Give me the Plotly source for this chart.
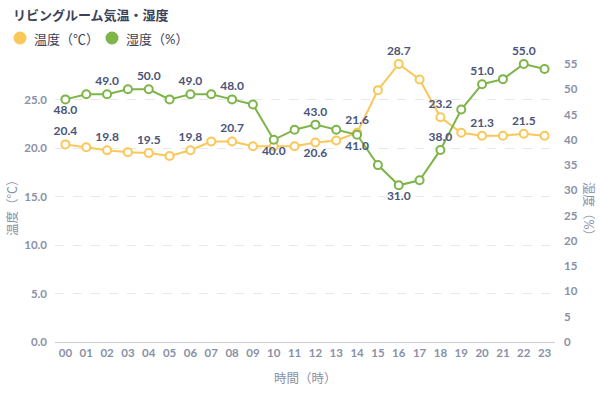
import plotly.graph_objects as go

hours = [f"{h:02d}" for h in range(24)]
temperature = [20.4, 20.1, 19.8, 19.6, 19.5, 19.2, 19.8, 20.7, 20.7, 20.2, 20.2, 20.2,
               20.6, 20.8, 21.6, 26.0, 28.7, 27.1, 23.2, 21.6, 21.3, 21.3, 21.5, 21.3]
humidity = [48.0, 49.0, 49.0, 50.0, 50.0, 48.0, 49.0, 49.0, 48.0, 47.0, 40.0, 42.0,
            43.0, 42.0, 41.0, 35.0, 31.0, 32.0, 38.0, 46.0, 51.0, 52.0, 55.0, 54.0]
temp_ticks = [0, 5, 10, 15, 20, 25]
hum_ticks = [0, 5, 10, 15, 20, 25, 30, 35, 40, 45, 50, 55]

title_text = "リビングルーム気温・湿度"
temp_name = "温度（℃）"
hum_name = "湿度（%）"
x_title = "時間（時）"

temp_label_pos = {0: "top center", 2: "top center", 4: "top center", 6: "top center",
                  8: "top center", 12: "bottom center", 14: "top center", 16: "top center",
                  18: "top center", 20: "top center", 22: "top center"}
hum_label_pos = {0: "bottom center", 2: "top center", 4: "top center", 6: "top center",
                 8: "top center", 10: "bottom center", 12: "top center", 14: "bottom center",
                 16: "bottom center", 18: "top center", 20: "top center", 22: "top center"}

YELLOW = "#FAC858"
GREEN = "#7DB548"
LABEL = "#4A5578"
AXIS = "#8A90A6"
DARK = "#3C4257"
FONT = "Lato, 'Noto Sans CJK JP', sans-serif"

def texts(vals, pos):
    return [f"{v:.1f}" if i in pos else "" for i, v in enumerate(vals)]

def positions(vals, pos):
    return [pos.get(i, "top center") for i in range(len(vals))]

fig = go.Figure()

fig.add_trace(go.Scatter(
    x=hours, y=temperature, mode="lines+markers+text", yaxis="y", name=temp_name,
    line=dict(color=YELLOW, width=2),
    marker=dict(symbol="circle", size=8, color="white", line=dict(color=YELLOW, width=2)),
    text=texts(temperature, temp_label_pos), textposition=positions(temperature, temp_label_pos),
    textfont=dict(family=FONT, size=12, color=LABEL, weight="bold"),
    showlegend=False, cliponaxis=False))

fig.add_trace(go.Scatter(
    x=hours, y=humidity, mode="lines+markers+text", yaxis="y2", name=hum_name,
    line=dict(color=GREEN, width=2),
    marker=dict(symbol="circle", size=8, color="white", line=dict(color=GREEN, width=2)),
    text=texts(humidity, hum_label_pos), textposition=positions(humidity, hum_label_pos),
    textfont=dict(family=FONT, size=12, color=LABEL, weight="bold"),
    showlegend=False, cliponaxis=False))

W, H = 600, 393
x0, x1 = 55 / W, 555 / W
y_bot, y_top = (H - 342) / H, (H - 64) / H

def px(x):
    return x / W

def py(y):
    return (H - y) / H

fig.update_layout(
    width=W, height=H, margin=dict(l=0, r=0, t=0, b=0, autoexpand=False),
    paper_bgcolor="white", plot_bgcolor="white",
    font=dict(family=FONT, color=AXIS),
    showlegend=False,
    xaxis=dict(domain=[x0, x1], type="category", range=[-0.5, 23.5], automargin=False,
               showgrid=False, showline=True, linecolor="#C8CCD6", linewidth=1,
               ticks="", tickfont=dict(family=FONT, size=11.5, color=AXIS, weight="bold"),
               fixedrange=True),
    yaxis=dict(domain=[y_bot, y_top], range=[0, 28.7], tickvals=temp_ticks, automargin=False,
               ticktext=[f"{t:.1f}" for t in temp_ticks],
               showgrid=True, gridcolor="#E6E8EC", griddash="dash", gridwidth=1,
               zeroline=False, showline=False, ticks="",
               tickfont=dict(family=FONT, size=11.5, color=AXIS, weight="bold"),
               ticklabelstandoff=7),
    yaxis2=dict(domain=[y_bot, y_top], range=[0, 55], tickvals=hum_ticks, automargin=False,
                overlaying="y", side="right", showgrid=False, zeroline=False,
                showline=False, ticks="",
                tickfont=dict(family=FONT, size=11.5, color=AXIS, weight="bold"),
                ticklabelstandoff=8),
)

# title
fig.add_annotation(text=title_text, xref="paper", yref="paper", x=px(11), y=py(15),
                   xanchor="left", yanchor="middle", showarrow=False,
                   font=dict(family=FONT, size=13, color=DARK, weight="bold"))

# legend (manual)
for cx, color, label in [(20, YELLOW, temp_name), (112, GREEN, hum_name)]:
    fig.add_shape(type="circle", xref="paper", yref="paper",
                  x0=px(cx - 6.5), x1=px(cx + 6.5), y0=py(38 + 6.5), y1=py(38 - 6.5),
                  fillcolor=color, line=dict(width=0))
    fig.add_annotation(text=label, xref="paper", yref="paper", x=px(cx + 12), y=py(39),
                       xanchor="left", yanchor="middle", showarrow=False,
                       font=dict(family=FONT, size=13, color=DARK))

# axis titles
fig.add_annotation(text=temp_name, xref="paper", yref="paper", x=px(13), y=py(205),
                   xanchor="center", yanchor="middle", showarrow=False, textangle=-90,
                   font=dict(family=FONT, size=12.5, color=AXIS))
fig.add_annotation(text=hum_name, xref="paper", yref="paper", x=px(588), y=py(212),
                   xanchor="center", yanchor="middle", showarrow=False, textangle=90,
                   font=dict(family=FONT, size=12.5, color=AXIS))
fig.add_annotation(text=x_title, xref="paper", yref="paper", x=px(305), y=py(378),
                   xanchor="center", yanchor="middle", showarrow=False,
                   font=dict(family=FONT, size=12.5, color=AXIS))

fig.write_html("out.html", config={"displayModeBar": False, "staticPlot": True},
               post_script="document.body.style.margin='0';document.body.style.overflow='hidden';")
